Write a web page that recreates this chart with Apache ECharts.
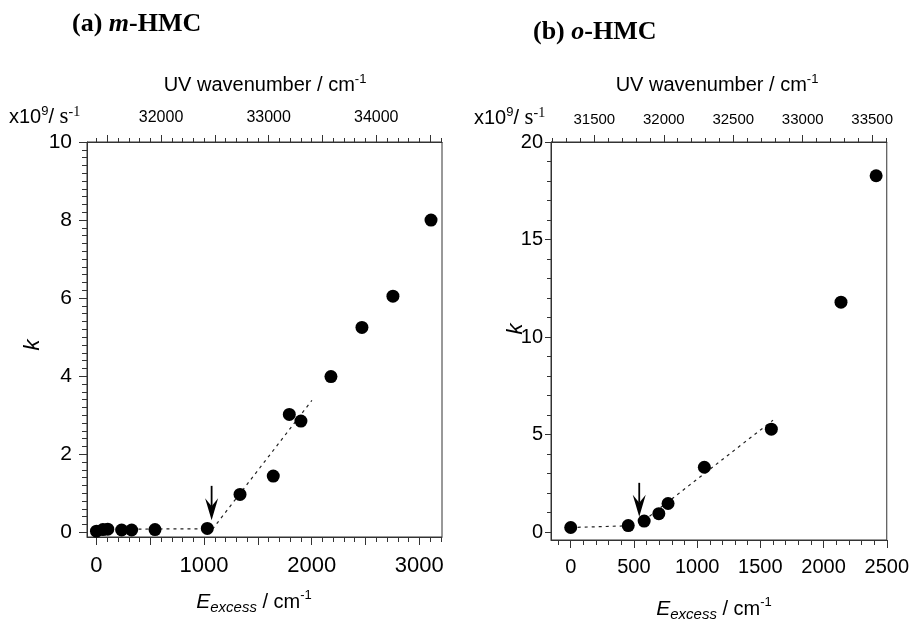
<!DOCTYPE html>
<html>
<head>
<meta charset="utf-8">
<script src="https://cdn.jsdelivr.net/npm/echarts@6/dist/echarts.min.js"></script>
<style>html,body{margin:0;padding:0;background:#fff}#c{width:912px;height:620px}</style>
</head>
<body>
<div id="c"></div>
<script>
// ---- Panel (a) m-HMC ----
const eA = [0, 60, 105, 234, 327, 544, 1030, 1334, 1643, 1792, 1900, 2179, 2467, 2755, 3109];
const kA = [0.03, 0.07, 0.08, 0.06, 0.06, 0.07, 0.10, 0.97, 1.44, 3.02, 2.85, 3.99, 5.25, 6.05, 8.00];
const fitA1X = [0, 1078], fitA1Y = [0.08, 0.09];
const fitA2X = [1078, 2002], fitA2Y = [0.08, 3.38];
const arrowA = [1070, 1.19, 0.31];
const bottomLabelsA = [0, 1000, 2000, 3000];
const topLabelsA = [32000, 33000, 34000];
const leftLabelsA = [0, 2, 4, 6, 8, 10];

// ---- Panel (b) o-HMC ----
const eB = [0, 455, 581, 697, 770, 1057, 1587, 2138, 2416];
const kB = [0.24, 0.34, 0.57, 0.95, 1.47, 3.33, 5.28, 11.79, 18.27];
const fitB1X = [0, 470], fitB1Y = [0.24, 0.33];
const fitB2X = [580, 1600], fitB2Y = [0.60, 5.74];
const arrowB = [542, 2.53, 0.79];
const bottomLabelsB = [0, 500, 1000, 1500, 2000, 2500];
const topLabelsB = [31500, 32000, 32500, 33000, 33500];
const leftLabelsB = [0, 5, 10, 15, 20];

function range(a, b, s) { const r = []; for (let v = a; v <= b + 1e-9; v += s) r.push(Math.round(v * 1000) / 1000); return r; }
function pairs(xs, ys) { return xs.map((x, i) => [x, ys[i]]); }

const AX = '#333';
const SANS = 'Liberation Sans';

function labelAxis(grid, pos, min, max, labels, fs, margin) {
  return { type: 'value', gridIndex: grid, position: pos, min, max, scale: true,
    axisLine: { show: true, onZero: false, lineStyle: { color: AX, width: 1 } },
    axisTick: { show: false },
    axisLabel: { show: true, customValues: labels, fontSize: fs, fontFamily: SANS, color: '#000', margin,
      formatter: v => String(v) },
    splitLine: { show: false } };
}
function tickAxis(grid, pos, min, max, ticks, tickLen) {
  return { type: 'value', gridIndex: grid, position: pos, min, max, scale: true,
    axisLine: { show: false, onZero: false },
    axisTick: { show: true, customValues: ticks, length: tickLen, lineStyle: { color: AX, width: 1 } },
    axisLabel: { show: false }, splitLine: { show: false } };
}

function arrowRender(params, api) {
  const x = api.value(0), y1 = api.value(1), y2 = api.value(2);
  const p1 = api.coord([x, y1]), p2 = api.coord([x, y2]);
  const hl = 22, hw = 6.5, notch = 14;
  return { type: 'group', children: [
    { type: 'line', shape: { x1: p1[0], y1: p1[1], x2: p2[0], y2: p2[1] - notch }, style: { stroke: '#000', lineWidth: 1.8 } },
    { type: 'polygon', shape: { points: [[p2[0], p2[1]], [p2[0] - hw, p2[1] - hl], [p2[0], p2[1] - notch], [p2[0] + hw, p2[1] - hl]] }, style: { fill: '#000' } }
  ] };
}

const fitStyle = { color: '#222', width: 1.2, type: [3, 4] };

const option = {
  animation: false,
  backgroundColor: '#fff',
  grid: [
    { left: 87, top: 142, width: 355, height: 395, show: true, borderColor: AX, borderWidth: 1, backgroundColor: 'transparent' },
    { left: 551, top: 142, width: 337, height: 398, show: true, borderColor: AX, borderWidth: 1, backgroundColor: 'transparent' }
  ],
  xAxis: [
    labelAxis(0, 'bottom', -88, 3211, bottomLabelsA, 22, 18),
    tickAxis(0, 'bottom', -88, 3211, range(0, 3000, 500), 8),
    tickAxis(0, 'bottom', -88, 3211, range(0, 3200, 100), 5),
    labelAxis(0, 'top', 31312, 34611, topLabelsA, 16, 16),
    tickAxis(0, 'top', 31312, 34611, range(31500, 34500, 500), 7),
    tickAxis(0, 'top', 31312, 34611, range(31400, 34600, 100), 4),
    labelAxis(1, 'bottom', -156, 2500, bottomLabelsB, 20, 17),
    tickAxis(1, 'bottom', -156, 2500, range(0, 2500, 500), 8),
    tickAxis(1, 'bottom', -156, 2500, range(-100, 2500, 100), 5),
    labelAxis(1, 'top', 31188, 33605, topLabelsB, 15, 15),
    tickAxis(1, 'top', 31188, 33605, topLabelsB, 7),
    tickAxis(1, 'top', 31188, 33605, range(31200, 33600, 100), 4)
  ],
  yAxis: [
    labelAxis(0, 'left', -0.12, 10, leftLabelsA, 21, 15),
    tickAxis(0, 'left', -0.12, 10, leftLabelsA, 8),
    tickAxis(0, 'left', -0.12, 10, range(0, 10, 0.2), 5),
    labelAxis(1, 'left', -0.4, 20, leftLabelsB, 20, 8),
    tickAxis(1, 'left', -0.4, 20, leftLabelsB, 6),
    tickAxis(1, 'left', -0.4, 20, range(0, 20, 1), 4)
  ],
  series: [
    { type: 'line', xAxisIndex: 0, yAxisIndex: 0, data: pairs(fitA1X, fitA1Y), symbol: 'none', lineStyle: fitStyle, z: 1 },
    { type: 'line', xAxisIndex: 0, yAxisIndex: 0, data: pairs(fitA2X, fitA2Y), symbol: 'none', lineStyle: fitStyle, z: 1 },
    { type: 'scatter', xAxisIndex: 0, yAxisIndex: 0, data: pairs(eA, kA), symbol: 'circle', symbolSize: 13, itemStyle: { color: '#000', opacity: 1 }, z: 3 },
    { type: 'custom', xAxisIndex: 0, yAxisIndex: 0, data: [arrowA], renderItem: arrowRender, encode: { x: 0, y: [1, 2] }, z: 4 },
    { type: 'line', xAxisIndex: 6, yAxisIndex: 3, data: pairs(fitB1X, fitB1Y), symbol: 'none', lineStyle: fitStyle, z: 1 },
    { type: 'line', xAxisIndex: 6, yAxisIndex: 3, data: pairs(fitB2X, fitB2Y), symbol: 'none', lineStyle: fitStyle, z: 1 },
    { type: 'scatter', xAxisIndex: 6, yAxisIndex: 3, data: pairs(eB, kB), symbol: 'circle', symbolSize: 13, itemStyle: { color: '#000', opacity: 1 }, z: 3 },
    { type: 'custom', xAxisIndex: 6, yAxisIndex: 3, data: [arrowB], renderItem: arrowRender, encode: { x: 0, y: [1, 2] }, z: 4 }
  ],
  graphic: []
};

const serifB = '"Liberation Serif", "Times New Roman", serif';
function richTitle(x, y, letter, italicPart) {
  return { type: 'text', x, y, style: {
    text: '{b|(' + letter + ') }{bi|' + italicPart + '}{b|-HMC}',
    align: 'left', verticalAlign: 'middle',
    rich: {
      b: { font: 'bold 26px ' + serifB, fill: '#000' },
      bi: { font: 'italic bold 26px ' + serifB, fill: '#000' }
    } } };
}
function uvTitle(x, y) {
  return { type: 'text', x, y, style: {
    text: '{m|UV wavenumber / cm}{s|-1}', align: 'center', verticalAlign: 'middle',
    rich: {
      m: { font: '20px ' + SANS, fill: '#000', lineHeight: 24, verticalAlign: 'middle' },
      s: { font: '13px ' + SANS, fill: '#000', lineHeight: 13, verticalAlign: 'top' }
    } } };
}
function eTitle(x, y) {
  return { type: 'text', x, y, style: {
    text: '{e|E}{sub|excess}{m| / cm}{s|-1}', align: 'center', verticalAlign: 'middle',
    rich: {
      e: { font: 'italic 21px ' + SANS, fill: '#000', lineHeight: 26 },
      sub: { font: 'italic 15px ' + SANS, fill: '#000', lineHeight: 15, verticalAlign: 'bottom' },
      m: { font: '20px ' + SANS, fill: '#000', lineHeight: 26 },
      s: { font: '13px ' + SANS, fill: '#000', lineHeight: 13, verticalAlign: 'top' }
    } } };
}
function unitLabel(x, y) {
  return { type: 'text', x, y, style: {
    text: '{m|x10}{s|9}{m|/ }{r|s}{rs|-1}', align: 'left', verticalAlign: 'middle',
    rich: {
      m: { font: '20px ' + SANS, fill: '#000', lineHeight: 24 },
      s: { font: '13px ' + SANS, fill: '#000', lineHeight: 13, verticalAlign: 'top' },
      r: { font: '23px ' + serifB, fill: '#000', lineHeight: 24 },
      rs: { font: '14px ' + serifB, fill: '#000', lineHeight: 13, verticalAlign: 'top' }
    } } };
}
function kLabel(x, y) {
  return { type: 'text', x, y, rotation: Math.PI / 2, style: {
    text: 'k', font: 'italic 22px ' + SANS, fill: '#000', align: 'center', verticalAlign: 'middle' } };
}

option.graphic = [
  richTitle(72, 24, 'a', 'm'),
  richTitle(533, 32, 'b', 'o'),
  uvTitle(265, 85),
  uvTitle(717, 85),
  unitLabel(9, 117),
  unitLabel(474, 118),
  kLabel(33, 345),
  kLabel(516, 329),
  eTitle(254, 602),
  eTitle(714, 609)
];

const chart = echarts.init(document.getElementById('c'), null, { renderer: 'canvas' });
chart.setOption(option);
</script>
</body>
</html>
